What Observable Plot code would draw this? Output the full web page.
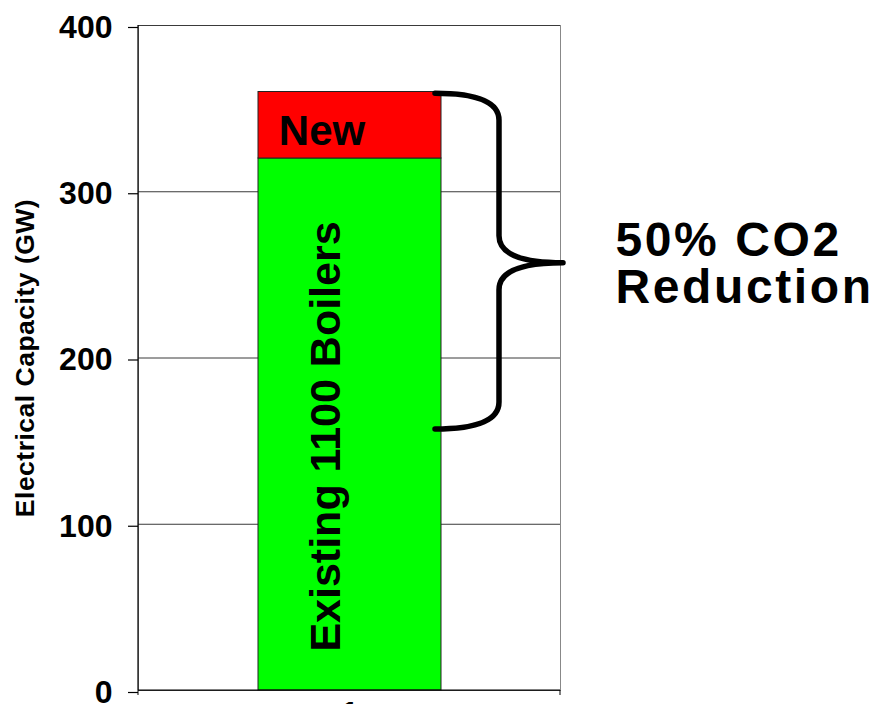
<!DOCTYPE html>
<html>
<head>
<meta charset="utf-8">
<script src="https://cdn.jsdelivr.net/npm/d3@7"></script>
<script src="https://cdn.jsdelivr.net/npm/@observablehq/plot@0.6"></script>
<style>
  html, body { margin: 0; padding: 0; background: #fff; }
  #chart { width: 878px; height: 704px; }
  #chart svg { display: block; }
</style>
</head>
<body>
<div id="chart"></div>
<script>
const categories = ["1"];
const segmentLabels = ["Existing 1100 Boilers", "New"];
const segmentValues = [320, 40];
const segmentColors = ["#00ff00", "#ff0000"];
const yTicks = [0, 100, 200, 300, 400];
const yLabel = "Electrical Capacity (GW)";
const braceTop = 359;
const braceTip = 257;
const braceBottom = 157;
const annotationLines = ["50% CO2", "Reduction"];

const FONT = "'Liberation Sans', Arial, Helvetica, sans-serif";

// table built from the arrays
const table = segmentLabels.map((label, i) => ({
  category: categories[0],
  label,
  value: segmentValues[i],
  color: segmentColors[i]
}));
const existingMid = segmentValues[0] / 2;
const newMid = segmentValues[0] + segmentValues[1] / 2;

function frameLines(index, scales, values, dimensions) {
  const {width, height, marginLeft, marginRight, marginTop, marginBottom} = dimensions;
  const x0 = marginLeft, x1 = width - marginRight;
  const y0 = marginTop, y1 = height - marginBottom;
  const g = d3.create("svg:g").attr("stroke", "#000").attr("fill", "none");
  g.append("line").attr("x1", x0).attr("x2", x0).attr("y1", y0).attr("y2", y1).attr("stroke-width", 1.2);
  g.append("line").attr("x1", x0).attr("x2", x1).attr("y1", y1).attr("y2", y1).attr("stroke-width", 1.2);
  g.append("line").attr("x1", x0).attr("x2", x0).attr("y1", y1).attr("y2", y1 + 5);
  g.append("line").attr("x1", x1).attr("x2", x1).attr("y1", y1).attr("y2", y1 + 5);
  return g.node();
}

function brace(index, scales) {
  const x = scales.x, y = scales.y;
  const xr = x(categories[0]) + x.bandwidth();
  const xa = xr - 6, xb = xr + 58, xt = xr + 122;
  const yT = y(braceTop), yM = y(braceTip), yB = y(braceBottom);
  const c = 27;
  const p = d3.path();
  p.moveTo(xa, yT);
  p.quadraticCurveTo(xb, yT, xb, yT + c);
  p.lineTo(xb, yM - c);
  p.quadraticCurveTo(xb, yM, xt, yM);
  p.quadraticCurveTo(xb, yM, xb, yM + c);
  p.lineTo(xb, yB - c);
  p.quadraticCurveTo(xb, yB, xa, yB);
  return d3.create("svg:path")
    .attr("d", p.toString())
    .attr("fill", "none")
    .attr("stroke", "#000")
    .attr("stroke-width", 5.5)
    .attr("stroke-linecap", "round")
    .attr("stroke-linejoin", "round")
    .node();
}

const chart = Plot.plot({
  width: 878,
  height: 704,
  marginLeft: 138,
  marginRight: 318,
  marginTop: 25,
  marginBottom: 14,
  style: {fontFamily: FONT, background: "#fff", color: "#000", overflow: "visible"},
  x: {domain: categories, padding: 0.395},
  y: {domain: [0, 400]},
  color: {type: "identity"},
  marks: [
    Plot.frame({stroke: "#888", strokeWidth: 1}),
    Plot.gridY(yTicks, {stroke: "#3a3a3a", strokeOpacity: 1, strokeWidth: 1}),
    Plot.barY(table, Plot.stackY({x: "category", y: "value", fill: "color", stroke: "#222", strokeWidth: 1, inset: 0, order: null})),
    frameLines,
    Plot.axisY(yTicks, {tickSize: 10, tickPadding: 16, fontSize: 32, fontWeight: "bold", label: null, dy: 2, strokeWidth: 1.2}),
    Plot.axisX({tickSize: 0, tickPadding: 11, fontSize: 32, fontWeight: "bold", label: null}),
    Plot.text([segmentLabels[1]], {x: () => categories[0], y: () => newMid, text: d => d, fontSize: 42, fontWeight: "bold", fill: "#000", dx: -28, dy: 6}),
    Plot.text([segmentLabels[0]], {x: () => categories[0], y: () => existingMid, text: d => d, rotate: -90, fontSize: 43, fontWeight: "bold", fill: "#000", dx: -24, dy: 12}),
    Plot.text([yLabel], {frameAnchor: "left", textAnchor: "middle", text: d => d, rotate: -90, fontSize: 26.5, fontWeight: "bold", fill: "#000", dx: -113}),
    brace,
    Plot.text([annotationLines[0]], {frameAnchor: "right", y: () => braceTip, text: d => d, textAnchor: "start", lineAnchor: "bottom", fontSize: 48, fontWeight: "bold", fill: "#000", dx: 55, dy: -7}),
    Plot.text([annotationLines[1]], {frameAnchor: "right", y: () => braceTip, text: d => d, textAnchor: "start", lineAnchor: "bottom", fontSize: 48, fontWeight: "bold", fill: "#000", dx: 55, dy: 40})
  ]
});

// widen lettering slightly, as in the reference
d3.select(chart).selectAll("text").filter(function() {
  return annotationLines.includes(this.textContent);
}).attr("letter-spacing", "2.6px");
d3.select(chart).selectAll("text").filter(function() {
  return this.textContent === yLabel;
}).attr("letter-spacing", "0.5px");

document.getElementById("chart").appendChild(chart);
</script>
</body>
</html>
